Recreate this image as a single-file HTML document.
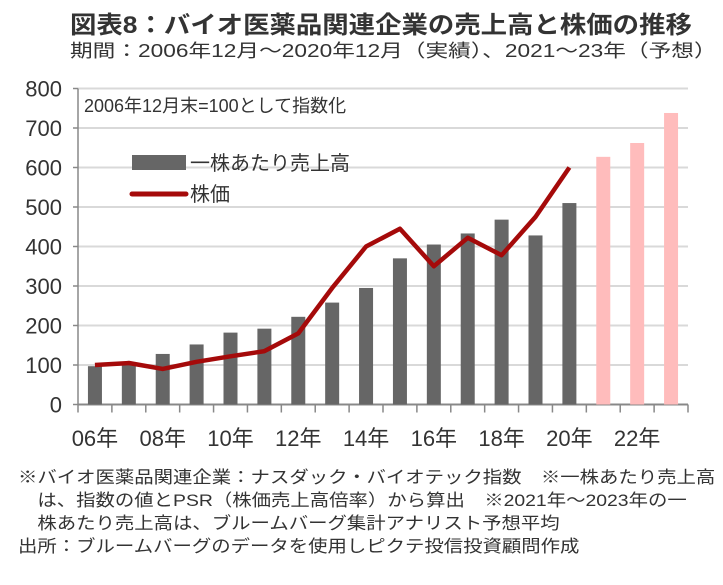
<!DOCTYPE html>
<html><head><meta charset="utf-8"><style>
body{margin:0;background:#fff;width:723px;height:585px;overflow:hidden;font-family:"Liberation Sans","Noto Sans CJK JP",sans-serif;color:#333}
.t{position:absolute;white-space:nowrap;transform-origin:0 0}
</style></head><body>
<div class="t" style="left:70px;top:5px;font-size:24px;font-weight:bold;color:#333;transform:scaleX(1.1)">図表8：バイオ医薬品関連企業の売上高と株価の推移</div>
<div class="t" style="left:70px;top:37px;font-size:18px;transform:scaleX(1.26)">期間：2006年12月～2020年12月（実績）、2021～23年（予想）</div>
<svg id="c" width="723" height="460" style="position:absolute;left:0;top:0"></svg>
<div class="t" style="left:18px;top:466px;font-size:17px;line-height:23px;transform:scaleX(1.14)">※バイオ医薬品関連企業：ナスダック・バイオテック指数　※一株あたり売上高<br>　は、指数の値とPSR（株価売上高倍率）から算出　※2021年～2023年の一<br>　株あたり売上高は、ブルームバーグ集計アナリスト予想平均<br>出所：ブルームバーグのデータを使用しピクテ投信投資顧問作成</div>
<script>
const years=[2006,2007,2008,2009,2010,2011,2012,2013,2014,2015,2016,2017,2018,2019,2020,2021,2022,2023];
const sales=[97,100,128,152,182,192,222,258,295,370,405,433,468,428,510,627,662,738];
const price=[100,105,90,108,122,135,180,295,400,445,350,422,378,475,600];
const yTicks=[0,100,200,300,400,500,600,700,800];
const xLabels=["06年","08年","10年","12年","14年","16年","18年","20年","22年"];
const svg=document.getElementById('c');const NS='http://www.w3.org/2000/svg';
const X0=78,X1=688,Y0=404.5,Y1=88.5;
const cw=(X1-X0)/years.length;
const y=v=>Y0-(v/800)*(Y0-Y1);
const xc=i=>X0+cw*(i+0.5);
function mk(t,a){const e=document.createElementNS(NS,t);for(const k in a)e.setAttribute(k,a[k]);svg.appendChild(e);return e;}
yTicks.forEach(v=>{
 const g=mk('line',{x1:X0,x2:X1,y1:y(v),y2:y(v),stroke:v?'#d9d9d9':'#888','stroke-width':2});
 
 
 const t=mk('text',{x:62,y:y(v)+8,'text-anchor':'end','font-size':22,fill:'#333'});t.textContent=v;
 
 
 mk('line',{x1:X0-5,x2:X0,y1:y(v),y2:y(v),stroke:'#888','stroke-width':1.5});
});
mk('line',{x1:X0,x2:X0,y1:Y1,y2:Y0,stroke:'#888','stroke-width':1.5});
for(let i=0;i<=years.length;i++)mk('line',{x1:X0+cw*i,x2:X0+cw*i,y1:Y0,y2:Y0+8,stroke:'#888','stroke-width':1.5});
sales.forEach((v,i)=>{
 const r=mk('rect',{x:xc(i)-7,y:y(v),width:14,height:Y0-y(v),fill:i<15?'#666666':'#ffbcbc'});
 
 
});
const p=mk('polyline',{points:price.map((v,i)=>xc(i)+','+y(v)).join(' '),fill:'none',stroke:'#a50a0a','stroke-width':4.5,'stroke-linejoin':'round'});


xLabels.forEach((l,k)=>{
 const t=mk('text',{x:xc(k*2),y:446,'text-anchor':'middle','font-size':22,fill:'#333'});t.textContent=l;
 
 
});
const n=mk('text',{x:84,y:112,'font-size':18,fill:'#333'});n.textContent='2006年12月末=100として指数化';


const lr=mk('rect',{x:132,y:155,width:54,height:15,fill:'#666666'});


const lt=mk('text',{x:190,y:170,'font-size':20,fill:'#333'});lt.textContent='一株あたり売上高';


const ll=mk('line',{x1:132,x2:186,y1:194,y2:194,stroke:'#a50a0a','stroke-width':5,'stroke-linecap':'round'});


const lt2=mk('text',{x:190,y:201,'font-size':20,fill:'#333'});lt2.textContent='株価';


</script>
</body></html>
